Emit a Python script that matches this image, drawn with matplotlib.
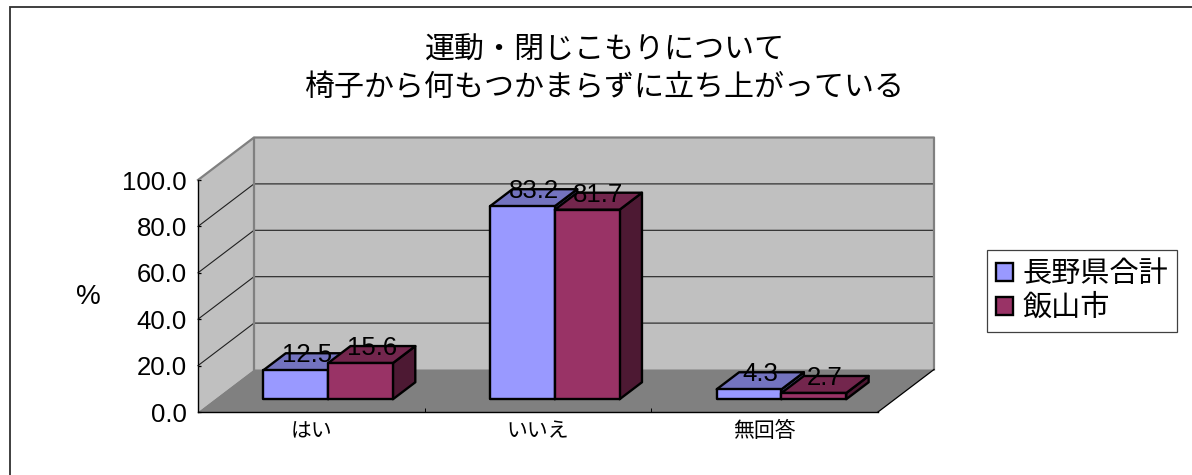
import matplotlib
matplotlib.use("Agg")
import matplotlib.pyplot as plt
from matplotlib.lines import Line2D
from matplotlib.patches import Patch, Polygon

plt.rcParams['font.family'] = ['Noto Sans CJK JP', 'DejaVu Sans']

categories = ['はい', 'いいえ', '無回答']
series_names = ['長野県合計', '飯山市']
prefecture = [12.5, 83.2, 4.3]
iiyama = [15.6, 81.7, 2.7]
y_ticks = [0, 20, 40, 60, 80, 100]
title = '運動・閉じこもりについて\n椅子から何もつかまらずに立ち上がっている'

W, H = 1192, 475
fig = plt.figure(figsize=(W / 100, H / 100), dpi=100, facecolor='white')
fig.add_artist(Line2D([9.5 / W, 9.5 / W, 1], [0, 1 - 6.5 / H, 1 - 6.5 / H], transform=fig.transFigure,
                      color='#303030', lw=1.3, solid_joinstyle='miter'))

L, R, B, T = 198, 878, 412, 180
ax = fig.add_axes([L / W, 1 - B / H, (R - L) / W, (B - T) / H])
ax.set_xlim(0, len(categories))
ax.set_ylim(0, 100)
ax.patch.set_visible(False)

DX = 56 * len(categories) / (R - L)     # depth offset in data units
DY = 42.5 * 100 / (B - T)


def pr(x, y, d=0.0):
    return (x + d * DX, y + d * DY)


def face(pts, fc, ec='none', lw=0, z=1):
    ax.add_patch(Polygon(pts, closed=True, fc=fc, ec=ec, lw=lw, zorder=z, clip_on=False, joinstyle='round'))


n = len(categories)
GRAY = '#808080'
NUM = ['Liberation Sans']
face([pr(0, 0, 0), pr(0, 0, 1), pr(0, 100, 1), pr(0, 100, 0)], '#C0C0C0', z=1)
face([pr(0, 0, 1), pr(n, 0, 1), pr(n, 100, 1), pr(0, 100, 1)], '#C0C0C0', z=1)
face([pr(0, 0, 0), pr(n, 0, 0), pr(n, 0, 1), pr(0, 0, 1)], GRAY, z=1.5)

for v in y_ticks[1:-1]:
    xs, ys = zip(pr(0, v, 0), pr(0, v, 1), pr(n, v, 1))
    ax.plot(xs, ys, color='#202020', lw=0.8, zorder=2, clip_on=False)
xs, ys = zip(pr(0, 100, 0), pr(0, 100, 1), pr(n, 100, 1), pr(n, 0, 1))
ax.plot(xs, ys, color=GRAY, lw=1.6, zorder=2, clip_on=False)
xs, ys = zip(pr(0, 100, 1), pr(0, 0, 1))
ax.plot(xs, ys, color=GRAY, lw=1.6, zorder=2, clip_on=False)
xs, ys = zip(pr(n, 0, 0), pr(n, 0, 1))
ax.plot(xs, ys, color='black', lw=0.9, zorder=2, clip_on=False)

palette = [('#9999FF', '#7373BF', '#4D4D80'), ('#993366', '#73264D', '#4D1933')]
bar_w = 1 / 3.5
d0, d1 = 0.3, 0.7
z = 3
for i in range(n):
    for s, vals in enumerate((prefecture, iiyama)):
        x0 = i + 0.75 * bar_w + s * bar_w
        x1 = x0 + bar_w
        v = vals[i]
        front, top, side = palette[s]
        kw = dict(ec='black', lw=1.7, z=z)
        face([pr(x1, 0, d0), pr(x1, 0, d1), pr(x1, v, d1), pr(x1, v, d0)], side, **kw)
        face([pr(x0, v, d0), pr(x1, v, d0), pr(x1, v, d1), pr(x0, v, d1)], top, **kw)
        face([pr(x0, 0, d0), pr(x1, 0, d0), pr(x1, v, d0), pr(x0, v, d0)], front, **kw)
        z += 0.1
        ax.annotate(f'{v:.1f}', xy=pr((x0 + x1) / 2, v, 0.5), xytext=(0, 4.7), textcoords='offset points',
                    ha='center', va='center', fontsize=18.5, family=NUM, color='black', zorder=10,
                    annotation_clip=False)

for sp in ('top', 'right'):
    ax.spines[sp].set_visible(False)
for sp in ('left', 'bottom'):
    ax.spines[sp].set_linewidth(1.0)
    ax.spines[sp].set_zorder(2.5)

ax.set_yticks(y_ticks, [f'{v:.1f}' for v in y_ticks], fontsize=18.5, family=NUM)
ax.tick_params(axis='y', direction='in', length=2.5, width=0.9, pad=8)
ax.set_xticks(range(1, n))
ax.set_xticklabels([])
ax.tick_params(axis='x', which='major', direction='in', length=3, width=0.7)
ax.set_xticks([i + 0.5 for i in range(n)], categories, minor=True, fontsize=15)
ax.tick_params(axis='x', which='minor', length=0, pad=6)

fig.text(88 / W, 1 - 297 / H, '%', fontsize=20, ha='center', va='center', family=NUM)
fig.text(605 / W, 1 - 69 / H, title, fontsize=21.6, ha='center', va='center', linespacing=1.25)

handles = [Patch(fc=palette[0][0], ec='black', lw=1.7), Patch(fc=palette[1][0], ec='black', lw=1.7)]
leg = fig.legend(handles, series_names, loc='lower left',
                 bbox_to_anchor=(987 / W, 1 - 332 / H), bbox_transform=fig.transFigure,
                 fontsize=21, frameon=True, fancybox=False, edgecolor='#404040', framealpha=1,
                 handlelength=0.58, handleheight=0.58, handletextpad=0.35, borderaxespad=0,
                 borderpad=0.3, labelspacing=0.15)
leg.get_frame().set_linewidth(0.9)

fig.savefig('out.png', dpi=100)
